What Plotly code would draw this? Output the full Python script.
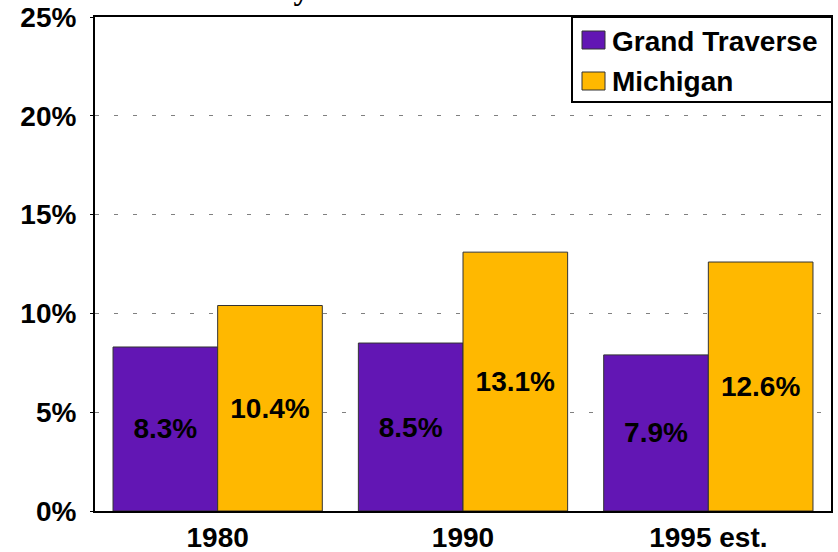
import plotly.graph_objects as go

categories = ["1980", "1990", "1995 est."]
grand_traverse = [8.3, 8.5, 7.9]
michigan = [10.4, 13.1, 12.6]
series_names = ["Grand Traverse", "Michigan"]
tick_vals = [0, 5, 10, 15, 20, 25]
tick_text = ["0%", "5%", "10%", "15%", "20%", "25%"]
title_text = "Poverty"

FONT = "Liberation Sans, Arial, sans-serif"
PURPLE = "#6216B4"
GOLD = "#FFB800"
W, H = 838, 552
L, R, T, B = 95, 7, 17, 41
PW, PH = W - L - R, H - T - B


def px(x):
    return (x - L) / PW


def py(y):
    return (H - B - y) / PH


fig = go.Figure()
for name, vals, col in [(series_names[0], grand_traverse, PURPLE), (series_names[1], michigan, GOLD)]:
    fig.add_trace(go.Bar(
        name=name, x=categories, y=vals,
        marker=dict(color=col, line=dict(color="#333333", width=1)),
        text=[f"{v:.1f}%" for v in vals],
        textposition="inside", insidetextanchor="middle", textangle=0,
        constraintext="none",
        textfont=dict(family=FONT, size=28, color="black", weight="bold"),
        showlegend=False, hoverinfo="skip",
    ))

shapes = [
    dict(type="rect", xref="paper", yref="paper", x0=px(572), x1=px(832), y0=py(102), y1=py(17),
         fillcolor="white", line=dict(color="black", width=2), layer="above"),
    dict(type="rect", xref="paper", yref="paper", x0=px(582), x1=px(605), y0=py(49), y1=py(31),
         fillcolor=PURPLE, line=dict(color="#333333", width=1), layer="above"),
    dict(type="rect", xref="paper", yref="paper", x0=px(582), x1=px(605), y0=py(90), y1=py(72),
         fillcolor=GOLD, line=dict(color="#333333", width=1), layer="above"),
]
annotations = [
    dict(text=series_names[0], xref="paper", yref="paper", x=px(610), y=py(41),
         xanchor="left", yanchor="middle", showarrow=False,
         font=dict(family=FONT, size=28, color="black", weight="bold")),
    dict(text=series_names[1], xref="paper", yref="paper", x=px(610), y=py(81),
         xanchor="left", yanchor="middle", showarrow=False,
         font=dict(family=FONT, size=28, color="black", weight="bold")),
    dict(text="<b>" + title_text + "</b>", xref="paper", yref="paper", x=px(256), y=py(7.5),
         xanchor="center", yanchor="bottom", showarrow=False,
         font=dict(family="Liberation Serif, Times New Roman, serif", size=32, color="black")),
]

fig.update_layout(
    width=W, height=H,
    margin=dict(l=L, r=R, t=T, b=B),
    paper_bgcolor="white", plot_bgcolor="white",
    barmode="group", bargap=0.147, bargroupgap=0,
    showlegend=False,
    shapes=shapes, annotations=annotations,
    xaxis=dict(
        automargin=False,
        showline=True, linecolor="black", linewidth=2, mirror=True,
        ticks="", tickfont=dict(family=FONT, size=28, color="black", weight="bold"),
    ),
    yaxis=dict(
        automargin=False,
        range=[0, 25], tickvals=tick_vals, ticktext=tick_text,
        showline=True, linecolor="black", linewidth=2, mirror=True,
        ticks="outside", ticklen=3, tickcolor="black", ticklabelstandoff=8,
        showgrid=True, gridcolor="#808080", gridwidth=1, griddash="4px,15px",
        zeroline=False,
        tickfont=dict(family=FONT, size=28, color="black", weight="bold"),
    ),
)

fig.write_html("out.html", config={"displayModeBar": False},
               post_script="document.body.style.margin='0px';document.body.style.overflow='hidden';")
